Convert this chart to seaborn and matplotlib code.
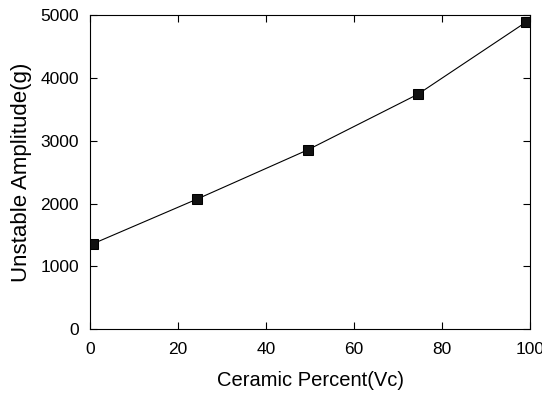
import numpy as np
import pandas as pd
import matplotlib.pyplot as plt
import seaborn as sns

ceramic_percent = [0.7, 24.3, 49.5, 74.5, 99.0]
unstable_amplitude = [1360, 2070, 2855, 3740, 4885]

sns.set_style("ticks", {"axes.edgecolor": "black", "text.color": "black",
                        "axes.labelcolor": "black", "xtick.color": "black",
                        "ytick.color": "black"})
plt.rcParams["font.family"] = ["Liberation Sans", "DejaVu Sans"]

df = pd.DataFrame({"x": ceramic_percent, "y": unstable_amplitude})

fig = plt.figure(figsize=(5.42, 3.98), dpi=100)
ax = fig.add_axes([0.166, 0.173, 0.812, 0.789])

sns.lineplot(data=df, x="x", y="y", ax=ax, color="black", linewidth=0.8,
             marker="s", markersize=7, markeredgecolor="black",
             markerfacecolor="#111111")

ax.set_xlim(0, 100)
ax.set_ylim(0, 5000)
ax.set_xticks([0, 20, 40, 60, 80, 100])
ax.set_yticks([0, 1000, 2000, 3000, 4000, 5000])
ax.set_xlabel("Ceramic Percent(Vc)", fontsize=14.5, labelpad=10)
ax.set_ylabel("Unstable Amplitude(g)", fontsize=16, labelpad=6)
ax.tick_params(direction="in", top=True, right=True, labelsize=12.5,
               length=5, width=0.8, colors="black")
ax.tick_params(axis="x", pad=9)
ax.tick_params(axis="y", pad=8)
for sp in ax.spines.values():
    sp.set_visible(True)
    sp.set_linewidth(0.8)
    sp.set_color("black")

fig.savefig("out.png", dpi=100)
